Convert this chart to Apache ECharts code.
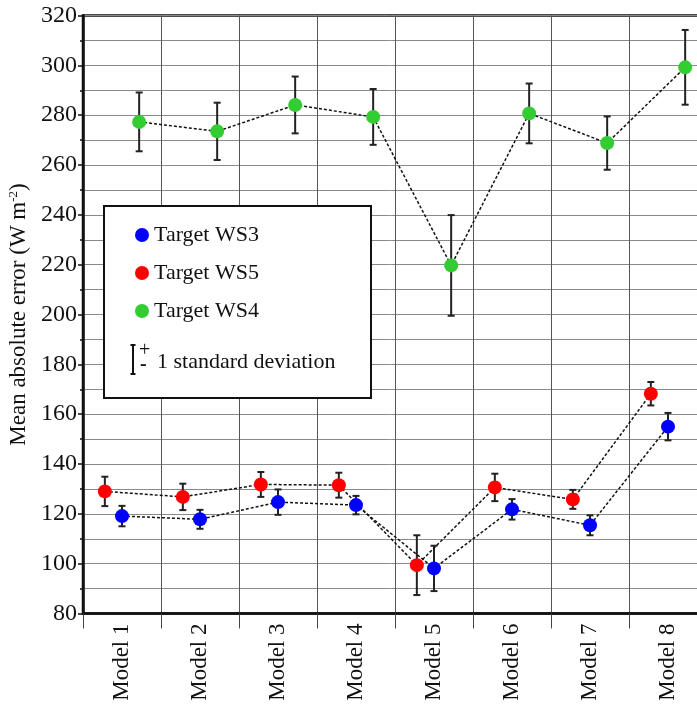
<!DOCTYPE html>
<html><head><meta charset="utf-8">
<script src="https://cdn.jsdelivr.net/npm/echarts@6/dist/echarts.min.js"></script>
<style>html,body{margin:0;padding:0;background:#fff}#c{width:697px;height:706px}</style>
</head><body><div id="c"></div>
<script>
const categories = ['Model 1','Model 2','Model 3','Model 4','Model 5','Model 6','Model 7','Model 8'];
const ws3 = [119.1, 117.8, 124.7, 123.5, 98.1, 121.8, 115.4, 155.0];
const ws3Sd = [4.1, 3.8, 5.1, 3.7, 9.1, 4.1, 4.0, 5.5];
const ws5 = [129.0, 126.8, 131.8, 131.5, 99.4, 130.6, 125.8, 168.2];
const ws5Sd = [5.9, 5.3, 5.0, 5.0, 12.0, 5.5, 3.8, 4.7];
const ws4 = [277.3, 273.5, 284.1, 279.3, 219.7, 280.7, 268.8, 299.2];
const ws4Sd = [11.8, 11.5, 11.4, 11.2, 20.2, 12.0, 10.7, 15.0];
const yTicks = {min: 80, max: 320, interval: 20};

const FONT = 'Liberation Serif';
const seriesDefs = [
  {name: 'Target WS3', vals: ws3, sd: ws3Sd, color: '#0000ff', off: 0},
  {name: 'Target WS5', vals: ws5, sd: ws5Sd, color: '#ff0000', off: -0.22},
  {name: 'Target WS4', vals: ws4, sd: ws4Sd, color: '#33cc33', off: 0.22}
];

const errData = [];
seriesDefs.forEach(s => s.vals.forEach((v, i) => {
  errData.push([i + 0.5 + s.off, v - s.sd[i], v + s.sd[i]]);
}));

const series = [{
  type: 'custom', name: 'sd', xAxisIndex: 1, z: 2, silent: true,
  data: errData,
  renderItem: function (params, api) {
    const x = api.value(0);
    const lo = api.coord([x, api.value(1)]);
    const hi = api.coord([x, api.value(2)]);
    const hw = 3.5;
    const st = {stroke: '#222', lineWidth: 2, fill: null};
    return {type: 'group', children: [
      {type: 'line', shape: {x1: lo[0], y1: lo[1], x2: hi[0], y2: hi[1]}, style: st},
      {type: 'line', shape: {x1: lo[0]-hw, y1: lo[1], x2: lo[0]+hw, y2: lo[1]}, style: st},
      {type: 'line', shape: {x1: hi[0]-hw, y1: hi[1], x2: hi[0]+hw, y2: hi[1]}, style: st}
    ]};
  }
}];
seriesDefs.forEach(s => {
  series.push({
    type: 'line', name: s.name, xAxisIndex: 1, z: 3,
    data: s.vals.map((v, i) => [i + 0.5 + s.off, v]),
    symbol: 'circle', symbolSize: 14, showSymbol: true,
    itemStyle: {color: s.color, borderWidth: 0},
    lineStyle: {color: '#111', width: 1.5, type: [3, 2]},
    emphasis: {disabled: true}, animation: false
  });
});

const chart = echarts.init(document.getElementById('c'), null, {renderer: 'canvas'});
chart.setOption({
  animation: false,
  backgroundColor: '#fff',
  grid: {left: 83, top: 15.5, width: 624, height: 598, outerBoundsMode: 'none', containLabel: false,
         show: true, borderColor: '#111', borderWidth: 2.5, backgroundColor: 'transparent'},
  xAxis: [{
    type: 'category', data: categories, boundaryGap: true,
    axisLine: {lineStyle: {color: '#111', width: 2.5}},
    axisTick: {show: true, length: 15, lineStyle: {color: '#444', width: 1}},
    splitLine: {show: true, lineStyle: {color: '#555', width: 1}},
    axisLabel: {rotate: 90, margin: 10, fontFamily: FONT, fontSize: 23, color: '#111'}
  }, {
    type: 'value', min: 0, max: 8, show: false, splitLine: {show: false}
  }],
  yAxis: {
    type: 'value', min: yTicks.min, max: yTicks.max, interval: yTicks.interval,
    name: '{n|Mean absolute error (W m}{sup|-2}{n|)}', nameLocation: 'middle', nameRotate: 90, nameGap: 48,
    nameTextStyle: {fontFamily: FONT, fontSize: 23, color: '#111', rich: {
      n: {fontFamily: FONT, fontSize: 23, color: '#111'},
      sup: {fontFamily: FONT, fontSize: 13, color: '#111', verticalAlign: 'top', padding: [0, 0, 10, 0]}}},
    axisLine: {show: true, lineStyle: {color: '#111', width: 2.5}},
    axisTick: {show: true, length: 5, lineStyle: {color: '#111', width: 1.5}},
    minorTick: {show: true, splitNumber: 2, length: 3, lineStyle: {color: '#111', width: 1.5}},
    splitLine: {show: true, lineStyle: {color: '#8a8a8a', width: 1}},
    minorSplitLine: {show: true, lineStyle: {color: '#8a8a8a', width: 1}},
    axisLabel: {margin: 6, fontFamily: FONT, fontSize: 24, color: '#111'}
  },
  legend: {
    show: true, orient: 'vertical', left: 130, top: 219, z: 20,
    data: seriesDefs.map(s => ({name: s.name, icon: 'circle'})),
    itemWidth: 14, itemHeight: 14, itemGap: 16,
    textStyle: {fontFamily: FONT, fontSize: 22, color: '#111'},
    selectedMode: false
  },
  graphic: [
    {type: 'group', z: 10, children: [
      {type: 'rect', z: 10, shape: {x: 104, y: 206, width: 267, height: 192}, style: {fill: '#fff', stroke: '#111', lineWidth: 2}},
      {type: 'line', z: 11, shape: {x1: 133, y1: 345, x2: 133, y2: 374}, style: {stroke: '#111', lineWidth: 2}},
      {type: 'line', z: 11, shape: {x1: 130.5, y1: 345, x2: 135.5, y2: 345}, style: {stroke: '#111', lineWidth: 2}},
      {type: 'line', z: 11, shape: {x1: 130.5, y1: 374, x2: 135.5, y2: 374}, style: {stroke: '#111', lineWidth: 2}},
      {type: 'text', z: 11, x: 139, y: 341, style: {text: '+', fontFamily: FONT, fontSize: 20, fill: '#111'}},
      {type: 'text', z: 11, x: 140, y: 355, style: {text: '-', fontFamily: FONT, fontSize: 20, fontWeight: 'bold', fill: '#111'}},
      {type: 'text', z: 11, x: 157, y: 351, style: {text: '1 standard deviation', fontFamily: FONT, fontSize: 22, fill: '#111'}}
    ]}
  ],
  series: series
});
</script></body></html>
